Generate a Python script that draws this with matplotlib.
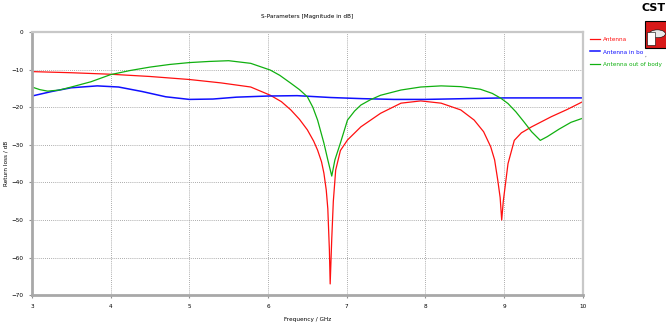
import matplotlib.pyplot as plt
from matplotlib import font_manager
from matplotlib.patches import Rectangle, Circle

# Antenna (red)
f_ant = [3.0, 3.5, 4.0, 4.5, 5.0, 5.4, 5.78, 6.03, 6.17, 6.29, 6.4, 6.5, 6.58, 6.63,
         6.68, 6.71, 6.74, 6.76, 6.78, 6.79, 6.81, 6.83, 6.86, 6.92, 7.01, 7.18, 7.43,
         7.69, 7.94, 8.2, 8.45, 8.62, 8.74, 8.83, 8.88, 8.92, 8.95, 8.97, 8.99, 9.02,
         9.05, 9.13, 9.22, 9.35, 9.6, 9.8, 10.0]
s_ant = [-10.5, -10.8, -11.2, -11.8, -12.6, -13.5, -14.6, -16.8, -18.5, -20.7, -23.2,
         -26.0, -29.0, -31.4, -34.5, -37.5, -42.0, -47.0, -58.0, -67.0, -55.0, -45.0,
         -36.7, -31.5, -28.7, -25.2, -21.6, -18.9, -18.3, -18.9, -20.7, -23.4, -26.5,
         -30.5, -34.0, -39.4, -44.0, -50.0, -45.0, -40.0, -35.0, -28.8, -26.8, -25.2,
         -22.5, -20.6, -18.5]

# Antenna in body (blue)
f_in = [3.0, 3.25, 3.5, 3.83, 4.1, 4.4, 4.7, 5.0, 5.3, 5.6, 6.0, 6.37, 6.8, 7.2,
        7.6, 8.0, 8.5, 9.0, 10.0]
s_in = [-17.0, -15.8, -14.8, -14.3, -14.6, -15.8, -17.2, -17.9, -17.8, -17.3, -17.0,
        -16.9, -17.4, -17.7, -17.9, -17.9, -17.7, -17.5, -17.5]

# Antenna out of body (green)
f_out = [3.0, 3.1, 3.2, 3.35, 3.5, 3.75, 4.0, 4.25, 4.5, 4.75, 5.0, 5.25, 5.5, 5.78,
         6.03, 6.15, 6.29, 6.4, 6.5, 6.57, 6.63, 6.71, 6.76, 6.81, 6.85, 6.92, 7.01,
         7.1, 7.18, 7.3, 7.43, 7.69, 7.94, 8.2, 8.45, 8.7, 8.85, 8.96, 9.05, 9.15,
         9.25, 9.35, 9.46, 9.55, 9.7, 9.85, 10.0]
s_out = [-14.6, -15.3, -15.7, -15.4, -14.6, -13.2, -11.3, -10.2, -9.3, -8.6, -8.1,
         -7.8, -7.6, -8.3, -10.1, -11.5, -13.6, -15.3, -17.2, -20.0, -23.4, -29.5,
         -34.0, -38.3, -34.0, -29.5, -23.4, -21.0, -19.4, -18.0, -16.8, -15.4, -14.6,
         -14.3, -14.5, -15.2, -16.3, -17.6, -19.0, -21.2, -23.8, -26.5, -28.8, -27.8,
         -25.8, -24.0, -22.9]

x_ticks = [3, 4, 5, 6, 7, 8, 9, 10]
y_ticks = [0, -10, -20, -30, -40, -50, -60, -70]

# condensed DejaVu looks closer to the narrow CST labels, if it is there
cond = font_manager.findfont(font_manager.FontProperties(family='DejaVu Sans',
                                                         stretch='condensed'))
plt.rcParams['font.family'] = ['DejaVu Sans']
if 'Condensed' in cond:
    plt.rcParams['font.stretch'] = 'condensed'
    fs = 4.6
else:
    fs = 4.2

fig = plt.figure(figsize=(6.66, 3.28), dpi=100)
ax = fig.add_axes([0.048, 0.100, 0.827, 0.802])

ax.plot(f_ant, s_ant, color='#ff1010', lw=0.9, label='Antenna')
ax.plot(f_in, s_in, color='#1010ff', lw=1.1, label='Antenna in bo')
ax.plot(f_out, s_out, color='#10b010', lw=0.9, label='Antenna out of body')

ax.set_xlim(3, 10)
ax.set_ylim(-70, 0)
ax.set_xticks(x_ticks)
ax.set_yticks(y_ticks)
ax.tick_params(labelsize=fs, length=2, color='#909090', pad=4)
ax.grid(True, color='#909090', lw=0.6, linestyle=(0, (1, 1.5)))

for side in ['left', 'bottom']:
    ax.spines[side].set_color('#a8a8a8')
    ax.spines[side].set_linewidth(2)
for side in ['top', 'right']:
    ax.spines[side].set_color('#c8c8c8')
    ax.spines[side].set_linewidth(1.6)

ax.set_title('S-Parameters [Magnitude in dB]', fontsize=fs, pad=10)
ax.set_xlabel('Frequency / GHz', fontsize=fs, labelpad=6)
ax.set_ylabel('Return loss / dB', fontsize=fs, labelpad=2)

leg = fig.legend(loc='upper left', bbox_to_anchor=(0.884, 0.893), frameon=False,
                 fontsize=fs, handlelength=1.5, handletextpad=0.6,
                 labelspacing=1.15, labelcolor='linecolor', borderaxespad=0,
                 borderpad=0.2)

# CST logo
fig.text(0.963, 0.99, 'CST', fontsize=8, fontweight='bold', ha='left', va='top',
         stretch='normal')
fig.patches.append(Rectangle((0.968, 0.855), 0.04, 0.08, transform=fig.transFigure,
                             facecolor='#d81818', edgecolor='black', lw=0.8))
fig.patches.append(Circle((0.987, 0.897), 0.012, transform=fig.transFigure,
                          facecolor='#e8e8e8', edgecolor='black', lw=0.4))
fig.patches.append(Rectangle((0.971, 0.862), 0.012, 0.04, transform=fig.transFigure,
                             facecolor='white', edgecolor='black', lw=0.4))
fig.text(0.968, 0.827, ',', fontsize=fs, color='#404040')

fig.savefig('out.png', dpi=100)
